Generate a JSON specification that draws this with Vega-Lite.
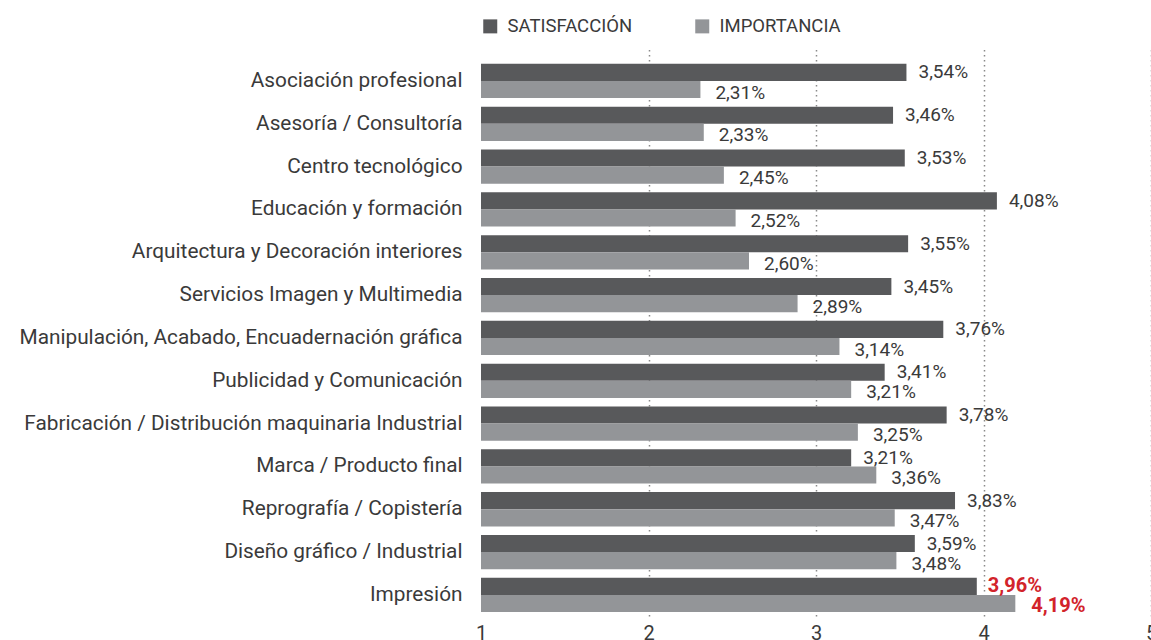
{
  "$schema": "https://vega.github.io/schema/vega-lite/v6.json",
  "width": 670,
  "height": 568,
  "autosize": {"type": "none"},
  "padding": {"left": 481, "top": 48, "right": 0, "bottom": 24},
  "config": {"view": {"stroke": null}, "font": "Roboto"},
  "data": {
    "values": [
      {"area": "Asociación profesional", "serie": "SATISFACCIÓN", "valor": 3.54},
      {"area": "Asociación profesional", "serie": "IMPORTANCIA", "valor": 2.31},
      {"area": "Asesoría / Consultoría", "serie": "SATISFACCIÓN", "valor": 3.46},
      {"area": "Asesoría / Consultoría", "serie": "IMPORTANCIA", "valor": 2.33},
      {"area": "Centro tecnológico", "serie": "SATISFACCIÓN", "valor": 3.53},
      {"area": "Centro tecnológico", "serie": "IMPORTANCIA", "valor": 2.45},
      {"area": "Educación y formación", "serie": "SATISFACCIÓN", "valor": 4.08},
      {"area": "Educación y formación", "serie": "IMPORTANCIA", "valor": 2.52},
      {"area": "Arquitectura y Decoración interiores", "serie": "SATISFACCIÓN", "valor": 3.55},
      {"area": "Arquitectura y Decoración interiores", "serie": "IMPORTANCIA", "valor": 2.60},
      {"area": "Servicios Imagen y Multimedia", "serie": "SATISFACCIÓN", "valor": 3.45},
      {"area": "Servicios Imagen y Multimedia", "serie": "IMPORTANCIA", "valor": 2.89},
      {"area": "Manipulación, Acabado, Encuadernación gráfica", "serie": "SATISFACCIÓN", "valor": 3.76},
      {"area": "Manipulación, Acabado, Encuadernación gráfica", "serie": "IMPORTANCIA", "valor": 3.14},
      {"area": "Publicidad y Comunicación", "serie": "SATISFACCIÓN", "valor": 3.41},
      {"area": "Publicidad y Comunicación", "serie": "IMPORTANCIA", "valor": 3.21},
      {"area": "Fabricación / Distribución maquinaria Industrial", "serie": "SATISFACCIÓN", "valor": 3.78},
      {"area": "Fabricación / Distribución maquinaria Industrial", "serie": "IMPORTANCIA", "valor": 3.25},
      {"area": "Marca / Producto final", "serie": "SATISFACCIÓN", "valor": 3.21},
      {"area": "Marca / Producto final", "serie": "IMPORTANCIA", "valor": 3.36},
      {"area": "Reprografía / Copistería", "serie": "SATISFACCIÓN", "valor": 3.83},
      {"area": "Reprografía / Copistería", "serie": "IMPORTANCIA", "valor": 3.47},
      {"area": "Diseño gráfico / Industrial", "serie": "SATISFACCIÓN", "valor": 3.59},
      {"area": "Diseño gráfico / Industrial", "serie": "IMPORTANCIA", "valor": 3.48},
      {"area": "Impresión", "serie": "SATISFACCIÓN", "valor": 3.96},
      {"area": "Impresión", "serie": "IMPORTANCIA", "valor": 4.19}
    ]
  },
  "transform": [
    {"calculate": "replace(format(datum.valor, '.2f'), '.', ',') + '%'", "as": "etiqueta"}
  ],
  "encoding": {
    "y": {
      "field": "area",
      "type": "nominal",
      "sort": null,
      "scale": {"paddingInner": 0.2, "paddingOuter": 0.231, "align": 0.8},
      "axis": {
        "title": null,
        "domain": false,
        "ticks": false,
        "labelFontSize": 20.8,
        "labelColor": "#3a3a3a",
        "labelPadding": 19,
        "labelLimit": 500
      }
    },
    "yOffset": {
      "field": "serie",
      "type": "nominal",
      "sort": ["SATISFACCIÓN", "IMPORTANCIA"],
      "scale": {"paddingInner": 0, "paddingOuter": 0}
    },
    "x": {
      "field": "valor",
      "type": "quantitative",
      "scale": {"domain": [1, 5], "zero": false, "nice": false},
      "axis": {
        "title": null,
        "values": [1, 2, 3, 4, 5],
        "domain": false,
        "ticks": false,
        "grid": true,
        "gridDash": [1.5, 3.5],
        "gridColor": "#8a8a8a",
        "gridWidth": 1.5,
        "gridOpacity": {"condition": {"test": "datum.value == 1", "value": 0}, "value": 1},
        "labelFontSize": 20,
        "labelColor": "#3a3a3a",
        "labelPadding": 7,
        "labelFlush": false,
        "labelOverlap": false
      }
    }
  },
  "layer": [
    {
      "mark": {"type": "bar"},
      "encoding": {
        "x2": {"datum": 1},
        "color": {
          "field": "serie",
          "type": "nominal",
          "scale": {"domain": ["SATISFACCIÓN", "IMPORTANCIA"], "range": ["#58595b", "#939598"]},
          "legend": {
            "title": null,
            "orient": "none",
            "direction": "horizontal",
            "legendX": 0,
            "legendY": -31,
            "symbolType": "square",
            "symbolSize": 196,
            "symbolStrokeWidth": 0,
            "symbolOpacity": 1,
            "labelFontSize": 18.5,
            "labelColor": "#3a3a3a",
            "labelOffset": 8,
            "columnPadding": 60
          }
        }
      }
    },
    {
      "transform": [{"filter": "datum.serie == 'SATISFACCIÓN' && datum.area != 'Impresión'"}],
      "mark": {"type": "text", "align": "left", "baseline": "middle", "dx": 12, "dy": 0, "fontSize": 19, "color": "#3a3a3a"},
      "encoding": {"text": {"field": "etiqueta"}}
    },
    {
      "transform": [{"filter": "datum.serie == 'IMPORTANCIA' && datum.area != 'Impresión'"}],
      "mark": {"type": "text", "align": "left", "baseline": "middle", "dx": 15, "dy": 3, "fontSize": 19, "color": "#3a3a3a"},
      "encoding": {"text": {"field": "etiqueta"}}
    },
    {
      "transform": [{"filter": "datum.serie == 'SATISFACCIÓN' && datum.area == 'Impresión'"}],
      "mark": {"type": "text", "align": "left", "baseline": "middle", "dx": 11, "dy": 0, "fontSize": 20, "fontWeight": "bold", "color": "#d2232a"},
      "encoding": {"text": {"field": "etiqueta"}}
    },
    {
      "transform": [{"filter": "datum.serie == 'IMPORTANCIA' && datum.area == 'Impresión'"}],
      "mark": {"type": "text", "align": "left", "baseline": "middle", "dx": 16, "dy": 3, "fontSize": 20, "fontWeight": "bold", "color": "#d2232a"},
      "encoding": {"text": {"field": "etiqueta"}}
    }
  ]
}
